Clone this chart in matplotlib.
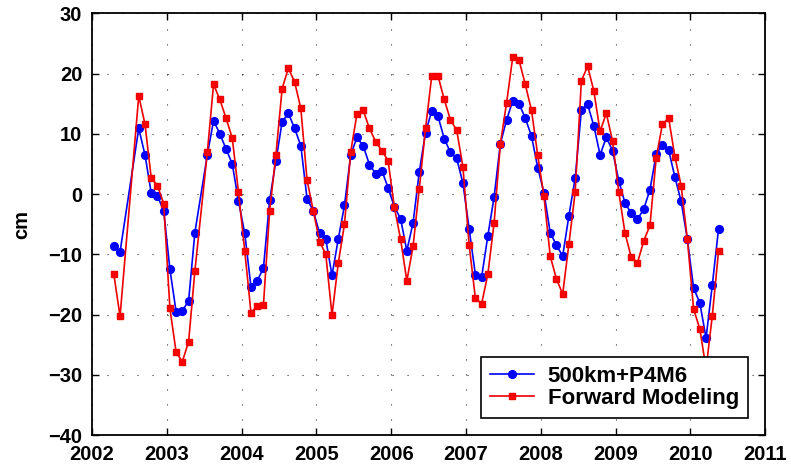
import matplotlib
matplotlib.use("Agg")
import matplotlib.pyplot as plt
import numpy as np

plt.rcParams['font.family'] = ['Liberation Sans', 'DejaVu Sans']
plt.rcParams['font.weight'] = 'bold'

# Monthly epochs, Apr 2002 - May 2010 (Jun/Jul 2002 and Jun 2003 absent)
missing = [(2002, 6), (2002, 7), (2003, 6)]
months = [(y, m) for y in range(2002, 2011) for m in range(1, 13)
          if (y, m) >= (2002, 4) and (y, m) <= (2010, 5) and (y, m) not in missing]
t = np.array([y + (m - 0.5) / 12.0 for y, m in months])

p4m6 = [
    -8.6, -9.6, 10.9, 6.5, 0.2, -0.3, -2.8,
    -12.5, -19.6, -19.4, -17.7, -6.4, 6.5, 12.2, 10.0, 7.5, 5.0, -1.2,
    -6.5, -15.4, -14.4, -12.3, -1.0, 5.5, 12.0, 13.4, 10.9, 8.0, -0.8, -2.8,
    -6.5, -7.5, -13.5, -7.5, -1.9, 6.5, 9.4, 8.0, 4.9, 3.4, 3.9, 1.0,
    -2.1, -4.1, -9.4, -4.8, 3.7, 10.2, 13.8, 12.9, 9.2, 6.9, 5.9, 1.8,
    -5.8, -13.4, -13.8, -6.9, -0.5, 8.3, 12.3, 15.5, 15.0, 12.6, 9.6, 4.4,
    0.2, -6.4, -8.5, -10.3, -3.6, 2.6, 13.9, 14.9, 11.3, 6.5, 9.4, 7.2,
    2.2, -1.5, -3.2, -4.2, -2.5, 0.7, 6.6, 8.2, 7.3, 2.8, -1.2, -7.5,
    -15.6, -18.1, -23.9, -15.1, -5.8,
]

forward = [
    -13.3, -20.3, 16.3, 11.6, 2.7, 1.4, -1.6,
    -19.0, -26.3, -27.8, -24.5, -12.8, 6.9, 18.2, 15.7, 12.6, 9.3, 0.3,
    -9.4, -19.7, -18.6, -18.4, -2.8, 6.5, 17.5, 20.9, 18.6, 14.2, 2.3, -2.8,
    -7.9, -10.0, -20.1, -11.5, -5.0, 7.0, 13.3, 13.9, 10.9, 8.7, 7.2, 5.5,
    -2.2, -7.5, -14.4, -8.7, 0.9, 10.9, 19.6, 19.6, 15.7, 12.3, 10.6, 4.5,
    -8.5, -17.3, -18.2, -13.3, -4.8, 8.3, 15.1, 22.8, 22.2, 18.2, 13.9, 6.4,
    -0.4, -10.3, -14.1, -16.6, -8.3, 0.3, 18.8, 21.2, 17.1, 10.4, 13.4, 8.8,
    0.3, -6.5, -10.5, -11.4, -7.8, -5.2, 6.0, 11.6, 12.6, 6.2, 1.4, -7.5,
    -19.1, -22.4, -29.0, -20.2, -9.5,
]

xticks = list(range(2002, 2012))
yticks = list(range(-40, 31, 10))

fig = plt.figure(figsize=(7.91, 4.71), dpi=100)
ax = fig.add_axes([0.1163, 0.0764, 0.8512, 0.8954])

ax.plot(t, p4m6, '-o', color='#0000ff', lw=1.2, ms=5.6,
        mfc='#0000ff', mec='#0000ff', label='500km+P4M6', zorder=3)
ax.plot(t, forward, '-s', color='#ee0000', lw=1.2, ms=4.8,
        mfc='#ff0000', mec='#ee0000', label='Forward Modeling', zorder=4)

ax.set_xlim(2002, 2011)
ax.set_ylim(-40, 30)
ax.set_xticks(xticks)
ax.set_yticks(yticks)
ax.set_xticklabels([str(v) for v in xticks], fontsize=14.5, fontweight='bold')
ax.set_yticklabels([str(v).replace('-', '\u2212') for v in yticks],
                   fontsize=14.5, fontweight='bold')
ax.tick_params(direction='in', length=5, width=1, top=True, right=True, pad=7)
ax.tick_params(axis='x', pad=7)

ax.grid(True, color='black', linestyle=(0, (1, 12.5)), linewidth=0.8, alpha=0.8)
for s in ax.spines.values():
    s.set_linewidth(1.3)

ax.set_ylabel('cm', fontsize=14.5, fontweight='bold', labelpad=12)

leg = ax.legend(loc='lower right', bbox_to_anchor=(0.974, 0.04),
                borderaxespad=0, fancybox=False, framealpha=1,
                edgecolor='black', fontsize=16, handlelength=2.0,
                handletextpad=0.6, borderpad=0.4, labelspacing=0.05)
leg.get_frame().set_linewidth(1.2)
for txt in leg.get_texts():
    txt.set_fontweight('bold')

fig.savefig('out.png', dpi=100)
